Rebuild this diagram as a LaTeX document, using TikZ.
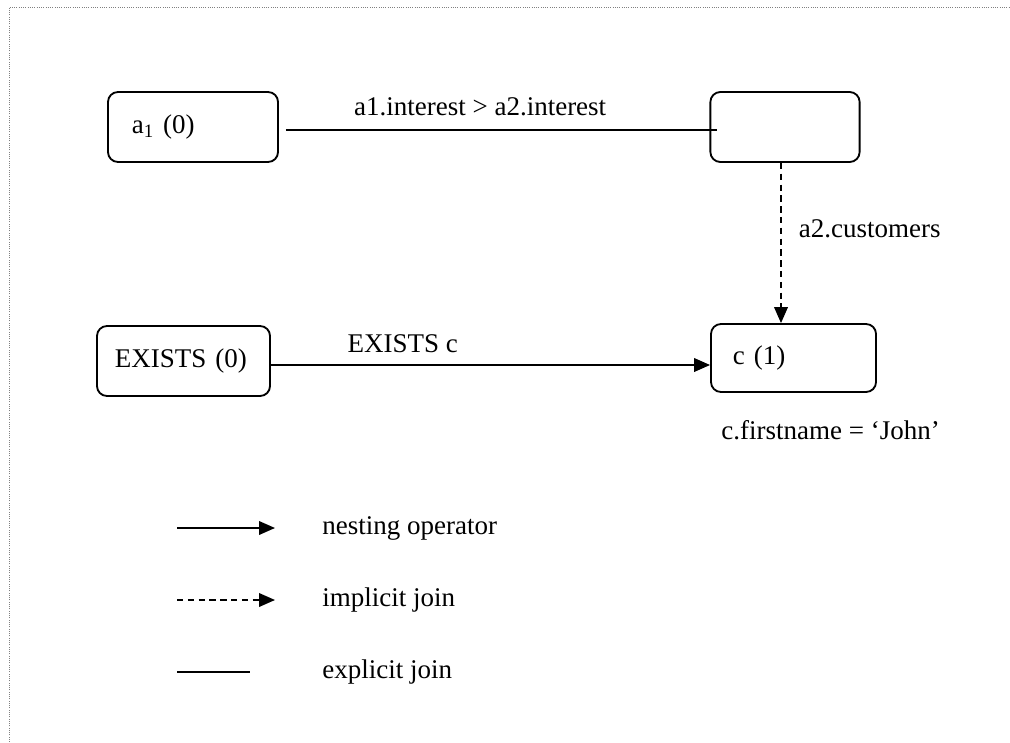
\documentclass[tikz,border=0pt]{standalone}
\usepackage{fontspec}
\setmainfont{Liberation Serif}
\usetikzlibrary{arrows.meta}

\tikzset{
  qbox/.style={draw, line width=1.3pt, rounded corners=0.25cm, align=left,
    inner xsep=0.55cm, minimum height=1.75cm},
  nest/.style={line width=1.3pt, -{Triangle[length=0.4cm, width=0.34cm]}},
  impl/.style={line width=1.3pt, dash pattern=on 0.16cm off 0.11cm,
    -{Triangle[length=0.4cm, width=0.34cm]}},
  expl/.style={line width=1.3pt}
}

\begin{document}
\begin{tikzpicture}[x=0.025cm, y=-0.025cm]
  \useasboundingbox (0,0) rectangle (1010,742);
  \fontsize{19.2}{23}\selectfont

  % frame
  \draw[gray, densely dotted, line width=0.6pt] (9,742) -- (9,7) -- (1010,7);

  % query boxes
  \node[qbox, inner xsep=0.6cm, text width=3.05cm] (a1) at (193,127) {a\textsubscript{1} (0)};
  \node[qbox, text width=2.63cm] (a2) at (785,127) {};
  \node[qbox, inner xsep=0.45cm, text width=3.425cm] (ex) at (183.5,361) {EXISTS (0)};
  \node[qbox, text width=3.025cm, minimum height=1.7cm] (c) at (793.5,358) {c (1)};

  % joins
  \draw[expl] ([xshift=0.175cm, yshift=-0.075cm]a1.east) -- ([xshift=0.2cm, yshift=-0.075cm]a2.west)
    node[pos=0.45, above=0.1cm] {a1.interest > a2.interest};
  \draw[impl] ([xshift=-0.1cm]a2.south) -- ([xshift=-0.1cm]a2.south |- c.north)
    node[pos=0.41, right=0.2cm] {a2.customers};
  \draw[nest] ([yshift=-0.1cm]ex.east) -- ([yshift=-0.1cm]ex.east -| c.west)
    node[pos=0.3, above=0.05cm] {EXISTS c};
  \node[anchor=north west] (cond) at ([xshift=0.05cm, yshift=-0.45cm]c.south west)
    {c.firstname = `John'};

  % legend
  \coordinate (l1a) at (177,528);
  \coordinate (l1b) at (275,528);
  \coordinate (l2a) at (177,600);
  \coordinate (l2b) at (275,600);
  \coordinate (l3a) at (177,672);
  \coordinate (l3b) at (250,672);
  \draw[nest] (l1a) -- (l1b);
  \draw[impl] (l2a) -- (l2b);
  \draw[expl] (l3a) -- (l3b);
  \node[anchor=west] (t1) at (313,528) {nesting operator};
  \node[anchor=west] (t2) at (313,600) {implicit join};
  \node[anchor=west] (t3) at (313,672) {explicit join};
\end{tikzpicture}
\end{document}
